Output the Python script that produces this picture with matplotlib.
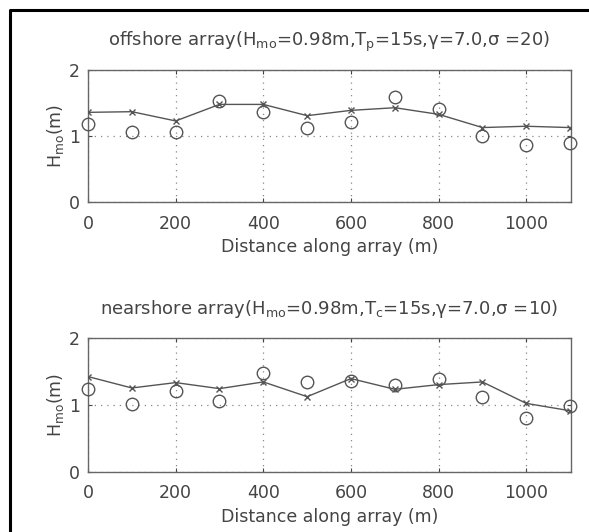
import matplotlib
matplotlib.use("Agg")
import matplotlib.pyplot as plt
from matplotlib.lines import Line2D

plt.rcParams['font.family'] = ['DejaVu Sans']
plt.rcParams['mathtext.fontset'] = 'dejavusans'

distance = [0, 100, 200, 300, 400, 500, 600, 700, 800, 900, 1000, 1100]

off_model = [1.36, 1.37, 1.23, 1.48, 1.48, 1.31, 1.39, 1.43, 1.33, 1.13, 1.15, 1.13]
off_meas = [1.19, 1.07, 1.06, 1.53, 1.36, 1.12, 1.21, 1.59, 1.41, 1.01, 0.86, 0.89]

near_model = [1.42, 1.25, 1.33, 1.24, 1.34, 1.12, 1.39, 1.23, 1.30, 1.34, 1.02, 0.91]
near_meas = [1.23, 1.01, 1.20, 1.06, 1.48, 1.34, 1.35, 1.29, 1.39, 1.11, 0.80, 0.98]

xticks = [0, 200, 400, 600, 800, 1000]
yticks = [0, 1, 2]

titles = [r"offshore array(H$_{\mathrm{mo}}$=0.98m,T$_{\mathrm{p}}$=15s,γ=7.0,σ =20)",
          r"nearshore array(H$_{\mathrm{mo}}$=0.98m,T$_{\mathrm{c}}$=15s,γ=7.0,σ =10)"]
xlabel = "Distance along array (m)"
ylabel = r"H$_{\mathrm{mo}}$(m)"

txt = '#444444'
lc = '#555555'

fig = plt.figure(figsize=(5.89, 5.32), dpi=100)
fig.patch.set_facecolor('white')

axes_pos = [[0.1494, 0.6197, 0.82, 0.2487], [0.1494, 0.1133, 0.82, 0.2519]]
data = [(off_model, off_meas), (near_model, near_meas)]

for pos, (model, meas), title in zip(axes_pos, data, titles):
    ax = fig.add_axes(pos)
    ax.plot(distance, model, color=lc, lw=1.0, marker='x', ms=5, mew=1.0, zorder=3)
    ax.plot(distance, meas, ls='none', marker='o', ms=9, mfc='none', mec=lc, mew=1.0, zorder=3, clip_on=False)
    ax.set_xlim(0, 1102)
    ax.set_ylim(0, 2)
    ax.set_xticks(xticks)
    ax.set_yticks(yticks)
    ax.grid(True, ls=(0, (1, 4)), color='#888888', lw=0.9)
    ax.tick_params(direction='in', length=3, colors=txt, labelsize=12.5, top=True, right=True)
    ax.tick_params(axis='x', pad=9)
    ax.tick_params(axis='y', pad=6)
    for s in ax.spines.values():
        s.set_color('#666666')
        s.set_linewidth(1.0)
    ax.set_title(title, fontsize=13, color=txt, pad=17)
    ax.set_xlabel(xlabel, fontsize=12.5, color=txt, labelpad=4)
    ax.set_ylabel(ylabel, fontsize=12.5, color=txt, labelpad=2)

fig.add_artist(Line2D([10/589, 10/589, 1.0], [0.0, 1 - 10/532, 1 - 10/532],
                      transform=fig.transFigure, color='black', lw=2.2))

fig.savefig('out.png', dpi=100, facecolor='white')
